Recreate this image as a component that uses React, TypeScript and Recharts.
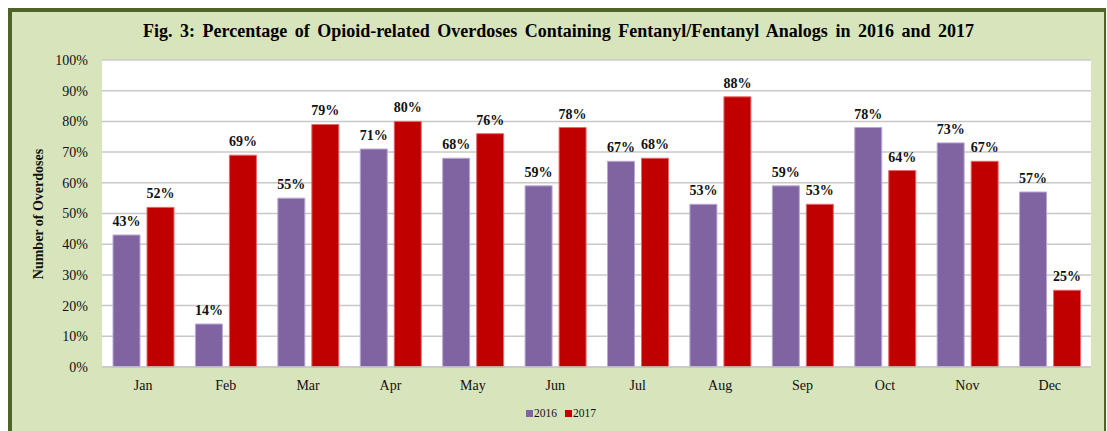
import React from 'react';
import { BarChart, Bar, XAxis, YAxis, CartesianGrid, LabelList } from 'recharts';

const months = ['Jan', 'Feb', 'Mar', 'Apr', 'May', 'Jun', 'Jul', 'Aug', 'Sep', 'Oct', 'Nov', 'Dec'];
const values2016 = [43, 14, 55, 71, 68, 59, 67, 53, 59, 78, 73, 57];
const values2017 = [52, 69, 79, 80, 76, 78, 68, 88, 53, 64, 67, 25];
const yTicks = [0, 10, 20, 30, 40, 50, 60, 70, 80, 90, 100];
const seriesNames = ['2016', '2017'];
const seriesColors = ['#8064a2', '#c00000'];
const seriesStrokes = ['#b9a9d2', '#e86a6a'];

const title = 'Fig. 3: Percentage of Opioid-related Overdoses Containing Fentanyl/Fentanyl Analogs in 2016 and 2017';
const yLabel = 'Number of Overdoses';

const data = months.map((m, i) => ({ month: m, y2016: values2016[i], y2017: values2017[i] }));

const serif = '"Liberation Serif", "Times New Roman", serif';

export default function App() {
  return (
    <div style={{ position: 'fixed', left: 0, top: 0, width: 1107, height: 431, background: '#fff', overflow: 'hidden' }}>
      <div
        style={{
          position: 'absolute',
          left: 8,
          top: 8,
          width: 1098,
          height: 440,
          boxSizing: 'border-box',
          background: '#d8e4bc',
          borderLeft: '4px solid #4f6228',
          borderTop: '4px solid #4f6228',
          borderRight: '2px solid #4f6228',
        }}
      />
      <div
        style={{
          position: 'absolute',
          left: 0,
          top: 20,
          width: 1117,
          textAlign: 'center',
          fontFamily: serif,
          fontWeight: 'bold',
          fontSize: 18,
          wordSpacing: 3,
          lineHeight: '22px',
          color: '#000',
          whiteSpace: 'nowrap',
        }}
      >
        {title}
      </div>
      <div style={{ position: 'absolute', left: 0, top: 0 }}>
        <BarChart
          width={1107}
          height={431}
          data={data}
          margin={{ top: 60, right: 16, bottom: 34, left: 20 }}
          barSize={27}
          barGap={7}
        >
          <CartesianGrid vertical={false} stroke="#c8c8c8" strokeWidth={1.5} fill="#ffffff" />
          <XAxis
            dataKey="month"
            tickLine={false}
            axisLine={{ stroke: '#c8c8c8', strokeWidth: 1.5 }}
            tickMargin={7}
            tick={{ fontFamily: serif, fontSize: 14, fill: '#111' }}
          />
          <YAxis
            width={82}
            domain={[0, 100]}
            ticks={yTicks}
            tickFormatter={(v) => `${v}%`}
            tickLine={false}
            axisLine={false}
            tickMargin={8}
            tick={{ fontFamily: serif, fontSize: 14, fill: '#111' }}
          />
          <Bar dataKey="y2016" name={seriesNames[0]} fill={seriesColors[0]} stroke={seriesStrokes[0]} strokeWidth={1} isAnimationActive={false}>
            <LabelList dataKey="y2016" position="top" offset={9} formatter={(v) => `${v}%`} style={{ fontFamily: serif, fontSize: 14, fontWeight: 'bold', fill: '#111' }} />
          </Bar>
          <Bar dataKey="y2017" name={seriesNames[1]} fill={seriesColors[1]} stroke={seriesStrokes[1]} strokeWidth={1} isAnimationActive={false}>
            <LabelList dataKey="y2017" position="top" offset={9} formatter={(v) => `${v}%`} style={{ fontFamily: serif, fontSize: 14, fontWeight: 'bold', fill: '#111' }} />
          </Bar>
        </BarChart>
      </div>
      <svg style={{ position: 'absolute', left: 0, top: 0 }} width={80} height={431}>
        <text
          x={38}
          y={214}
          transform="rotate(-90 38 214)"
          textAnchor="middle"
          dominantBaseline="central"
          fontFamily={serif}
          fontWeight="bold"
          fontSize={14}
          fill="#111"
        >
          {yLabel}
        </text>
      </svg>
      <div
        style={{
          position: 'absolute',
          left: 0,
          top: 405,
          width: 1122,
          display: 'flex',
          justifyContent: 'center',
          fontFamily: serif,
          fontSize: 11.5,
          lineHeight: '16px',
          color: '#111',
        }}
      >
        {seriesNames.map((n, i) => (
          <span key={n} style={{ display: 'inline-flex', alignItems: 'center', marginRight: i === 0 ? 8 : 0 }}>
            <span style={{ display: 'inline-block', width: 7, height: 7, background: seriesColors[i], marginRight: 1 }} />
            {n}
          </span>
        ))}
      </div>
    </div>
  );
}
